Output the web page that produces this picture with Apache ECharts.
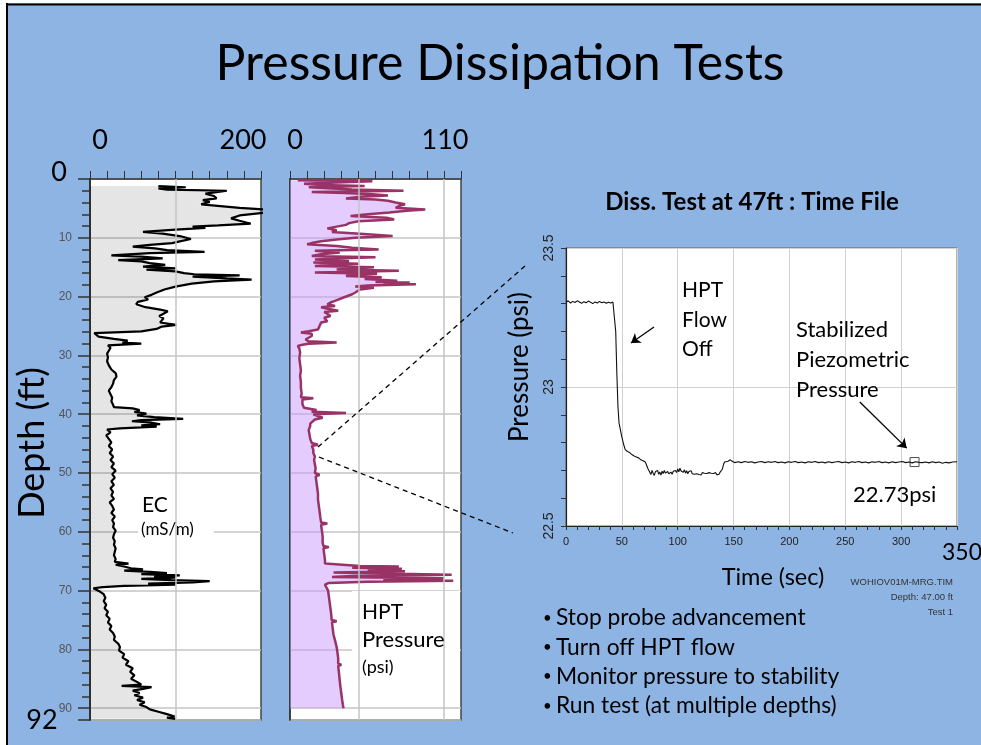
<!DOCTYPE html>
<html>
<head>
<meta charset="utf-8">
<script src="https://cdn.jsdelivr.net/npm/echarts@6/dist/echarts.min.js"></script>
<style>
html, body { margin: 0; padding: 0; background: #fff; }
#main { width: 981px; height: 745px; }
</style>
</head>
<body>
<div id="main"></div>
<script>
// EC log: [depth ft, EC mS/m]
const ecLog = [
  [1.2, 80], [1.4, 112], [1.5, 100], [1.6, 80], [1.8, 90], [2.0, 160], [2.2, 150], [2.5, 135], [2.9, 145],
  [3.3, 148], [3.6, 132], [3.9, 140], [4.3, 130], [4.6, 128], [4.9, 175], [5.2, 205], [5.7, 205], [6.2, 175],
  [6.7, 165], [7.1, 175], [7.6, 188], [7.9, 150], [8.1, 120], [8.3, 135], [8.6, 100], [9.0, 62], [9.3, 85],
  [9.7, 105], [10.2, 118], [10.6, 105], [10.9, 96], [11.2, 70], [11.5, 50], [11.8, 76], [12.1, 90], [12.4, 134],
  [12.6, 70], [13.0, 25], [13.2, 60], [13.5, 85], [13.8, 33], [14.0, 60], [14.3, 70], [14.6, 88], [14.9, 62],
  [15.2, 100], [15.4, 66], [15.7, 100], [16.0, 110], [16.2, 122], [16.4, 175], [16.6, 120], [16.9, 160],
  [17.1, 189], [17.4, 145], [17.8, 119], [18.3, 100], [18.8, 87], [19.3, 78], [19.7, 72], [20.1, 64], [20.5, 68],
  [20.9, 56], [21.3, 54], [21.6, 52], [21.8, 65], [22.2, 82], [22.5, 91], [22.9, 86], [23.3, 81], [23.7, 86],
  [24.0, 84], [24.4, 82], [24.8, 101], [25.1, 84], [25.5, 78], [25.9, 60], [26.2, 5], [26.5, 4], [26.8, 10],
  [27.2, 28], [27.5, 44], [27.8, 38], [28.0, 60], [28.3, 21], [28.7, 24], [29.2, 22], [29.7, 20], [30.3, 21],
  [31.0, 20], [31.7, 22], [32.4, 25], [33.0, 30], [33.6, 31], [34.2, 28], [34.8, 27], [35.4, 25], [36.0, 22],
  [36.6, 24], [37.2, 26], [37.8, 25], [38.4, 27], [38.8, 28], [39.0, 50], [39.3, 58], [39.6, 52], [39.9, 66],
  [40.2, 55], [40.5, 75], [40.8, 109], [41.0, 60], [41.2, 49], [41.4, 70], [41.7, 82], [41.9, 60], [42.1, 78],
  [42.4, 35], [42.6, 20], [43.1, 24], [43.6, 19], [44.2, 22], [44.8, 25], [45.4, 22], [46.0, 26], [46.6, 23],
  [47.2, 27], [47.8, 24], [48.4, 28], [49.0, 25], [49.6, 30], [50.2, 26], [50.8, 29], [51.4, 25], [52.0, 28],
  [52.6, 24], [53.2, 27], [53.8, 25], [54.4, 28], [55.0, 23], [55.6, 26], [56.2, 28], [56.8, 25], [57.4, 29],
  [58.0, 26], [58.6, 28], [59.2, 27], [59.8, 30], [60.4, 28], [61.0, 27], [61.6, 29], [62.2, 28], [62.8, 30],
  [63.4, 29], [64.0, 28], [64.6, 30], [65.1, 29], [65.4, 45], [65.6, 30], [65.9, 40], [66.2, 48], [66.4, 62],
  [66.6, 40], [66.8, 70], [67.0, 90], [67.2, 60], [67.4, 105], [67.6, 75], [67.8, 100], [68.0, 60], [68.2, 95],
  [68.4, 140], [68.6, 120], [68.8, 68], [69.0, 100], [69.2, 40], [69.4, 15], [69.6, 4], [69.9, 6], [70.2, 12],
  [70.6, 16], [71.2, 18], [71.8, 16], [72.4, 19], [73.0, 17], [73.6, 21], [74.2, 19], [74.8, 23], [75.4, 21],
  [76.0, 25], [76.6, 23], [77.2, 27], [77.8, 29], [78.4, 28], [79.0, 33], [79.6, 35], [80.2, 34], [80.8, 40],
  [81.4, 38], [82.0, 45], [82.6, 42], [83.2, 50], [83.8, 47], [84.4, 52], [85.0, 48], [85.6, 56], [86.0, 60],
  [86.2, 37], [86.4, 72], [86.7, 62], [87.0, 50], [87.4, 58], [87.8, 52], [88.2, 62], [88.6, 55], [89.0, 64],
  [89.4, 58], [89.8, 66], [90.2, 70], [90.6, 80], [91.0, 90], [91.4, 99], [91.6, 90], [91.8, 100]
];

// HPT pressure log: [depth ft, psi]
const hptLog = [
  [0.2, 5], [0.4, 53], [0.6, 30], [0.8, 9], [1.0, 20], [1.2, 48], [1.4, 12], [1.6, 11], [1.8, 40], [2.0, 73],
  [2.2, 14], [2.4, 35], [2.6, 53], [2.8, 63], [3.0, 45], [3.3, 36], [3.5, 55], [3.7, 63], [4.0, 68], [4.3, 74],
  [4.6, 70], [4.9, 68], [5.2, 87], [5.4, 75], [5.7, 64], [6.0, 50], [6.3, 39], [6.6, 62], [6.9, 67], [7.2, 44],
  [7.5, 38], [7.8, 36], [8.1, 30], [8.4, 24], [8.7, 30], [9.0, 27], [9.3, 45], [9.7, 66], [10.0, 42], [10.3, 30],
  [10.6, 20], [10.9, 14], [11.1, 11], [11.4, 30], [11.7, 40], [12.0, 57], [12.2, 16], [12.5, 32], [12.8, 20],
  [13.1, 14], [13.3, 55], [13.5, 30], [13.7, 16], [14.0, 38], [14.2, 15], [14.4, 44], [14.6, 28], [14.8, 16],
  [15.0, 54], [15.2, 40], [15.4, 30], [15.6, 70], [15.8, 35], [15.9, 16], [16.1, 56], [16.3, 40], [16.5, 36],
  [16.7, 59], [17.0, 48], [17.3, 69], [17.5, 55], [17.6, 77], [17.8, 60], [17.9, 81], [18.1, 50], [18.3, 42],
  [18.5, 54], [18.8, 45], [19.0, 44], [19.3, 42], [19.6, 40], [19.9, 37], [20.2, 34], [20.5, 31], [20.8, 28],
  [21.0, 26], [21.3, 24], [21.6, 29], [21.8, 20], [22.1, 25], [22.4, 31], [22.6, 22], [22.9, 24], [23.3, 26],
  [23.6, 22], [23.9, 22], [24.2, 24], [24.4, 20], [24.7, 21], [25.0, 19], [25.3, 20], [25.6, 18], [25.9, 12],
  [26.1, 7], [26.3, 14], [26.5, 15], [26.7, 14], [27.0, 12], [27.3, 10], [27.6, 12], [27.8, 30], [28.0, 12],
  [28.2, 8], [28.4, 5], [28.8, 6], [29.5, 6.5], [30.5, 6], [31.5, 6.5], [32.5, 7], [33.5, 6.5], [34.5, 7],
  [35.5, 7], [36.5, 7.5], [37.1, 7], [37.3, 15], [37.5, 8], [38.3, 8], [38.9, 9], [39.3, 17], [39.6, 14],
  [39.8, 36], [40.0, 15], [40.3, 18], [40.6, 21], [40.9, 16], [41.2, 15], [41.6, 13], [42.0, 13], [42.7, 12],
  [43.4, 12.5], [44.2, 13], [44.9, 14], [45.2, 18], [45.4, 14], [46.0, 15], [46.6, 15], [47.2, 16], [47.8, 15.5],
  [48.5, 16], [49.2, 16.5], [50.0, 16], [50.3, 19], [50.6, 16.5], [51.5, 17], [52.5, 17.5], [53.5, 18],
  [54.5, 18], [55.5, 18.5], [56.5, 19], [57.5, 19.5], [58.4, 20], [58.6, 24], [58.8, 20], [59.8, 20.5],
  [60.8, 21], [61.8, 21], [62.4, 21.5], [62.6, 25], [62.8, 21.5], [63.8, 22], [64.8, 22.5], [65.4, 22.5],
  [65.6, 22], [65.8, 45], [65.9, 70], [66.1, 40], [66.3, 72], [66.5, 50], [66.7, 74], [66.9, 28], [67.1, 60],
  [67.3, 104], [67.5, 40], [67.7, 27], [67.9, 99], [68.1, 60], [68.3, 105], [68.5, 50], [68.7, 25], [69.0, 22.5],
  [70.0, 24.5], [71.0, 25], [72.0, 25.5], [73.0, 26], [74.0, 26.5], [75.0, 26.8], [75.2, 30], [75.4, 27],
  [76.5, 27.5], [77.5, 28], [78.5, 29], [79.6, 30], [80.5, 30.5], [81.5, 31], [82.4, 31], [82.6, 33], [82.8, 31],
  [84.0, 31.5], [85.3, 32], [86.5, 32.5], [87.5, 33], [88.5, 33.5], [89.4, 34], [89.8, 34.3], [90.0, 34.5]
];

// dissipation test at 47 ft: [time s, psi]
const dissTest = [
  [0, 23.305], [2, 23.31], [4, 23.302], [6, 23.308], [8, 23.304], [10, 23.31], [12, 23.306], [14, 23.301],
  [16, 23.307], [18, 23.303], [20, 23.309], [22, 23.305], [24, 23.3], [26, 23.306], [28, 23.302], [30, 23.308],
  [32, 23.303], [34, 23.306], [36, 23.301], [38, 23.305], [40, 23.302], [42, 23.306], [43.5, 23.3],
  [44.5, 23.2], [45.5, 23.05], [46.5, 22.93], [47.5, 22.87], [48.5, 22.85], [50, 22.82], [51.5, 22.795],
  [53, 22.775], [55, 22.768], [57, 22.764], [59, 22.757], [61, 22.752], [63, 22.748], [65, 22.745],
  [67, 22.738], [69, 22.735], [71, 22.73], [72.5, 22.725], [73.5, 22.705], [75, 22.698], [76, 22.685],
  [77, 22.7], [78, 22.69], [79, 22.682], [80, 22.695], [81, 22.688], [82, 22.7], [83, 22.686], [84, 22.694],
  [85, 22.683], [86, 22.697], [87, 22.689], [88, 22.7], [89, 22.69], [90, 22.685], [91, 22.696], [92, 22.688],
  [93, 22.683], [94, 22.694], [95, 22.686], [96, 22.697], [97, 22.69], [98, 22.7], [99, 22.692], [100, 22.705],
  [101, 22.695], [102, 22.708], [103, 22.698], [104, 22.704], [105, 22.693], [106, 22.702], [107, 22.69],
  [108, 22.699], [109, 22.688], [110, 22.696], [111, 22.692], [112, 22.699], [113, 22.688], [114, 22.694],
  [115, 22.686], [116, 22.693], [117, 22.688], [118, 22.695], [119, 22.685], [120, 22.691], [121, 22.684],
  [122, 22.692], [123, 22.685], [124, 22.69], [125, 22.683], [126, 22.689], [127, 22.684], [128, 22.692],
  [129, 22.686], [130, 22.69], [131, 22.683], [132, 22.689], [133, 22.685], [134, 22.692], [135, 22.684],
  [136, 22.69], [137, 22.686], [138, 22.694], [139, 22.69], [140, 22.705], [141, 22.722], [142, 22.73],
  [143, 22.735], [145, 22.733], [147, 22.738], [149, 22.732], [151, 22.728], [154, 22.731], [157, 22.728],
  [160, 22.732], [163, 22.729], [166, 22.731], [169, 22.727], [172, 22.73], [175, 22.732], [178, 22.728],
  [181, 22.731], [184, 22.729], [187, 22.732], [190, 22.728], [193, 22.73], [196, 22.727], [199, 22.731],
  [202, 22.729], [205, 22.732], [208, 22.728], [211, 22.73], [214, 22.727], [217, 22.731], [220, 22.729],
  [223, 22.732], [226, 22.728], [229, 22.73], [232, 22.727], [235, 22.731], [238, 22.728], [241, 22.73],
  [244, 22.732], [247, 22.728], [250, 22.73], [253, 22.727], [256, 22.731], [259, 22.729], [262, 22.732],
  [265, 22.728], [268, 22.73], [271, 22.727], [274, 22.731], [277, 22.729], [280, 22.732], [283, 22.728],
  [286, 22.73], [289, 22.727], [292, 22.731], [295, 22.728], [298, 22.73], [301, 22.732], [304, 22.728],
  [307, 22.73], [310, 22.727], [313, 22.731], [316, 22.729], [319, 22.728], [322, 22.73], [325, 22.727],
  [328, 22.731], [331, 22.728], [334, 22.73], [337, 22.726], [340, 22.729], [343, 22.727], [346, 22.73],
  [350, 22.731]
];
const stablePoint = [[312, 22.73]];

const ecRangeLabels = ['0', '200'];
const hptRangeLabels = ['0', '110'];
const depthEndLabels = ['0', '92'];
const timeEndLabel = '350';
const bullets = ['Stop probe advancement', 'Turn off HPT flow', 'Monitor pressure to stability', 'Run test (at multiple depths)'];
const fileInfo = ['WOHIOV01M-MRG.TIM', 'Depth: 47.00 ft', 'Test 1'];

const FONT = 'Lato, "Open Sans", sans-serif';
const ecData = ecLog.map(p => [p[1], p[0]]);
const hptData = hptLog.map(p => [p[1], p[0]]);

// one polygon from the depth axis out to the curve
function fillItem(data, color) {
  return function (params, api) {
    if (params.dataIndex !== 0) return null;
    const pts = [api.coord([0, data[0][1]])];
    data.forEach(p => pts.push(api.coord(p)));
    pts.push(api.coord([0, data[data.length - 1][1]]));
    return { type: 'polygon', shape: { points: pts }, style: { fill: color } };
  };
}

function gridLine(values) {
  return {
    silent: true, symbol: ['none', 'none'], label: { show: false },
    lineStyle: { color: '#c4c4c4', width: 1.5, type: 'solid' },
    data: values.map(v => ({ xAxis: v }))
  };
}

function txt(text, x, y, size, align, extra) {
  return Object.assign({
    type: 'text', z: 20,
    style: { text: text, x: x, y: y, font: size + 'px ' + FONT, fill: '#000', textAlign: align || 'left', textVerticalAlign: 'middle' }
  }, extra || {});
}

function vtxt(text, x, y, size) {
  return { type: 'text', z: 20, x: x, y: y, rotation: Math.PI / 2,
    style: { text: text, x: 0, y: 0, font: size + 'px ' + FONT, fill: '#000', textAlign: 'center', textVerticalAlign: 'middle' } };
}

const myChart = echarts.init(document.getElementById('main'));

const depthAxisBase = { type: 'value', inverse: true, min: 0, max: 92, position: 'left' };
const darkLine = { show: true, lineStyle: { color: '#333', width: 1.5 } };

const option = {
  animation: false,
  backgroundColor: '#8EB4E3',
  grid: [
    { left: 90, top: 179, width: 171, height: 541, show: true, backgroundColor: '#fff', borderColor: '#444', borderWidth: 1.5 },
    { left: 290, top: 179, width: 171, height: 541, show: true, backgroundColor: '#fff', borderColor: '#444', borderWidth: 1.5 },
    { left: 566, top: 248, width: 391, height: 278, show: true, backgroundColor: '#fff', borderColor: '#666', borderWidth: 1 }
  ],
  xAxis: [
    { gridIndex: 0, type: 'value', position: 'top', min: 0, max: 200, interval: 20,
      axisLine: darkLine, axisTick: { length: 8, lineStyle: { color: '#333' } }, axisLabel: { show: false }, splitLine: { show: false } },
    { gridIndex: 1, type: 'value', position: 'top', min: 0, max: 110, interval: 11,
      axisLine: darkLine, axisTick: { length: 8, lineStyle: { color: '#333' } }, axisLabel: { show: false }, splitLine: { show: false } },
    { gridIndex: 2, type: 'value', min: 0, max: 350, interval: 50,
      axisLine: { show: true, lineStyle: { color: '#222', width: 1.2 } },
      axisTick: { length: 4, lineStyle: { color: '#333' } },
      minorTick: { show: true, splitNumber: 5, length: 4, lineStyle: { color: '#333' } },
      axisLabel: { color: '#222', fontSize: 11, margin: 10, fontFamily: 'Liberation Sans Narrow, Arial',
        formatter: v => (v === 350 ? '' : String(v)) },
      splitLine: { show: true, lineStyle: { color: '#d0d0d0' } } }
  ],
  yAxis: [
    Object.assign({ gridIndex: 0, interval: 10,
      axisLine: { show: true, lineStyle: { color: '#333', width: 2 } },
      axisTick: { length: 12, lineStyle: { color: '#333', width: 1.5 } },
      axisLabel: { color: '#555', fontSize: 12, margin: 18, fontFamily: 'Liberation Sans, Arial',
        formatter: v => (v > 0 && v % 10 === 0 ? String(v) : '') },
      splitLine: { show: true, lineStyle: { color: '#c4c4c4', width: 1.5 } } }, depthAxisBase),
    Object.assign({ gridIndex: 0, interval: 2,
      axisLine: { show: false }, axisTick: { length: 8, lineStyle: { color: '#333', width: 1.5 } },
      axisLabel: { show: false }, splitLine: { show: false } }, depthAxisBase),
    Object.assign({ gridIndex: 1, interval: 10,
      axisLine: darkLine, axisTick: { show: false }, axisLabel: { show: false },
      splitLine: { show: true, lineStyle: { color: '#c4c4c4', width: 1.5 } } }, depthAxisBase),
    { gridIndex: 2, type: 'value', min: 22.5, max: 23.5, interval: 0.5,
      axisLine: { show: true, lineStyle: { color: '#222', width: 1.2 } },
      axisTick: { length: 5, lineStyle: { color: '#333' } },
      minorTick: { show: true, splitNumber: 5, length: 5, lineStyle: { color: '#333' } },
      axisLabel: { rotate: 90, color: '#222', fontSize: 14, margin: 10, fontFamily: 'Liberation Sans, Arial' },
      splitLine: { show: true, lineStyle: { color: '#d0d0d0' } } }
  ],
  series: [
    { type: 'custom', xAxisIndex: 0, yAxisIndex: 0, data: ecData, clip: true, silent: true, z: 1,
      renderItem: fillItem(ecData, 'rgba(0,0,0,0.1)') },
    { type: 'line', xAxisIndex: 0, yAxisIndex: 0, data: ecData, showSymbol: false, z: 3,
      lineStyle: { color: '#000', width: 2.2 }, markLine: gridLine([100]) },
    { type: 'custom', xAxisIndex: 1, yAxisIndex: 2, data: hptData, clip: true, silent: true, z: 1,
      renderItem: fillItem(hptData, 'rgba(204,153,255,0.5)') },
    { type: 'line', xAxisIndex: 1, yAxisIndex: 2, data: hptData, showSymbol: false, z: 3,
      lineStyle: { color: '#993366', width: 2.5 }, markLine: gridLine([44, 99]) },
    { type: 'line', xAxisIndex: 2, yAxisIndex: 3, data: dissTest, showSymbol: false, z: 3,
      lineStyle: { color: '#111', width: 1.1 },
      markLine: {
        silent: true, symbol: ['none', 'arrow'], symbolSize: 9, label: { show: false },
        lineStyle: { color: '#000', width: 1.3, type: 'solid' },
        data: [
          [{ coord: [263, 22.946] }, { coord: [305, 22.78] }],
          [{ coord: [78.8, 23.216] }, { coord: [58.2, 23.158] }]
        ]
      } },
    { type: 'scatter', xAxisIndex: 2, yAxisIndex: 3, data: stablePoint, symbol: 'rect', symbolSize: 9, z: 4,
      itemStyle: { color: 'rgba(0,0,0,0)', borderColor: '#222', borderWidth: 1 } }
  ],
  graphic: [
    { type: 'rect', z: 30, shape: { x: 0, y: 0, width: 6, height: 745 }, style: { fill: '#fff' } },
    { type: 'rect', z: 30, shape: { x: 0, y: 0, width: 981, height: 3 }, style: { fill: '#fff' } },
    { type: 'line', z: 31, shape: { x1: 7, y1: 3, x2: 7, y2: 745 }, style: { stroke: '#000', lineWidth: 2 } },
    { type: 'line', z: 31, shape: { x1: 6, y1: 4.5, x2: 981, y2: 4.5 }, style: { stroke: '#000', lineWidth: 2 } },
    // white patches behind the panel labels
    { type: 'rect', z: 5, shape: { x: 138, y: 484, width: 76, height: 63 }, style: { fill: '#fff' } },
    { type: 'rect', z: 5, shape: { x: 352, y: 591, width: 108, height: 92 }, style: { fill: '#fff' } },
    // zoom lines from the log to the test chart
    { type: 'line', z: 10, shape: { x1: 318, y1: 447, x2: 525, y2: 266 }, style: { stroke: '#000', lineWidth: 1.3, lineDash: [5, 4] } },
    { type: 'line', z: 10, shape: { x1: 319, y1: 457, x2: 513, y2: 533 }, style: { stroke: '#000', lineWidth: 1.3, lineDash: [5, 4] } },
    txt('Pressure Dissipation Tests', 500, 64, 50, 'center'),
    txt(ecRangeLabels[0], 100, 140, 27, 'center'),
    txt(ecRangeLabels[1], 243, 140, 27, 'center'),
    txt(hptRangeLabels[0], 295, 140, 27, 'center'),
    txt(hptRangeLabels[1], 445, 140, 27, 'center'),
    txt(depthEndLabels[0], 59, 172, 27, 'center'),
    txt(depthEndLabels[1], 42, 720, 27, 'center'),
    vtxt('Depth (ft)', 32, 443, 36),
    txt('EC', 142, 505, 21),
    txt('(mS/m)', 141, 530, 17),
    txt('HPT', 362, 612, 21),
    txt('Pressure', 362, 640, 22),
    txt('(psi)', 362, 667, 18),
    { type: 'text', z: 20, style: { text: 'Diss. Test at 47ft : Time File', x: 752, y: 202, font: 'bold 24px ' + FONT, fill: '#000', textAlign: 'center', textVerticalAlign: 'middle' } },
    vtxt('Pressure (psi)', 520, 367, 26),
    txt('Time (sec)', 773, 577, 23.5, 'center'),
    txt(timeEndLabel, 962, 553, 23, 'center'),
    txt('HPT', 682, 290, 21),
    txt('Flow', 682, 320, 21),
    txt('Off', 682, 349, 21),
    txt('Stabilized', 796, 330, 22),
    txt('Piezometric', 796, 360, 22),
    txt('Pressure', 796, 390, 22),
    txt('22.73psi', 853, 495, 22)
  ]
    .concat(fileInfo.map((t, i) => ({ type: 'text', z: 20,
      style: { text: t, x: 953, y: 582 + i * 15, font: '9.5px "Liberation Sans Narrow", Arial', fill: '#333', textAlign: 'right', textVerticalAlign: 'middle' } })))
    .concat(bullets.map((t, i) => txt('•', 543, 618 + i * 29.3, 15)))
    .concat(bullets.map((t, i) => txt(t, 556, 618 + i * 29.3, 22.8)))
};

option && myChart.setOption(option);
</script>
</body>
</html>
